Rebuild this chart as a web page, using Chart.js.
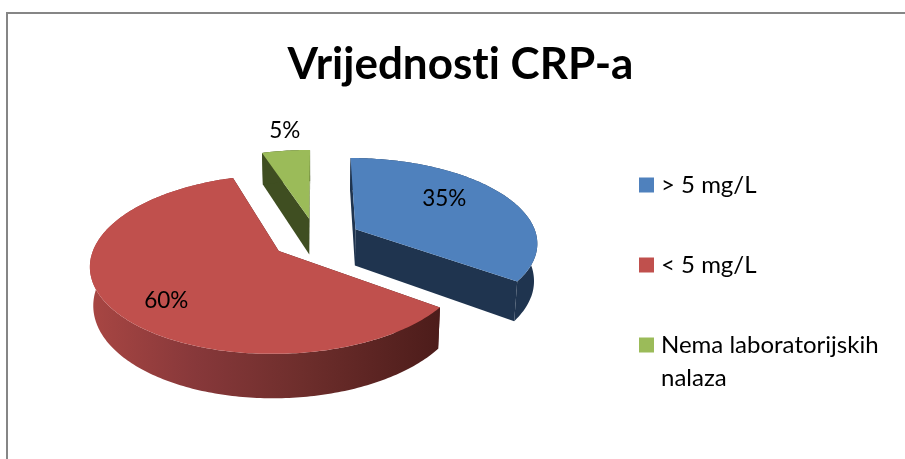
<!DOCTYPE html>
<html><head><meta charset="utf-8">
<style>html,body{margin:0;padding:0;background:#fff}canvas{display:block}</style>
<script src="https://cdn.jsdelivr.net/npm/chart.js@4"></script>
</head><body>
<canvas id="c" width="905" height="459"></canvas>
<script>
const categories = ['> 5 mg/L', '< 5 mg/L', ['Nema laboratorijskih', 'nalaza']];
const values = [35, 60, 5];
const titleText = 'Vrijednosti CRP-a';
const topColors = ['#4f81bd', '#c0504d', '#9bbb59'];
const sideColors = ['#1f344f', '#c0504d', '#3f4e21'];
const view = {cx: 316, cy: 238.5, S: 182, T: 84, p: 0.145, depth: 37, shrink: 0.985};
const labelPos = [{r: 0.58, dx: 1, dy: -10}, {r: 0.74, dx: 9, dy: 9}, {r: 1.2, dx: 3, dy: -8}];
const drawOrder = [2, 0, 1];
const fontFamily = 'Lato, Carlito, sans-serif';

function pr(u, v, low) {
  const w = 1 - view.p * v;
  const k = low ? view.shrink : 1;
  return [view.cx + view.S * u / w * k, view.cy + view.T * v / w + (low ? view.depth / w : 0)];
}
function pathOf(ctx, pts) {
  ctx.beginPath();
  pts.forEach((q, i) => i ? ctx.lineTo(q[0], q[1]) : ctx.moveTo(q[0], q[1]));
  ctx.closePath();
}
function geom(el) {
  const p = el.getProps(['startAngle', 'endAngle', 'outerRadius']);
  const mid = (p.startAngle + p.endAngle) / 2;
  const e = el.options.offset / p.outerRadius;
  return {a0: p.startAngle, a1: p.endAngle, mid, ox: e * Math.cos(mid), oy: e * Math.sin(mid)};
}
const pie3d = {
  id: 'pie3d',
  beforeDraw(chart) {
    const ctx = chart.ctx;
    ctx.textRendering = 'optimizeSpeed';
    ctx.save();
    ctx.strokeStyle = '#868686';
    ctx.lineWidth = 2;
    ctx.beginPath();
    ctx.moveTo(7, 459); ctx.lineTo(7, 13); ctx.lineTo(905, 13);
    ctx.stroke();
    ctx.restore();
    const lg = chart.legend;
    lg.left = 588; lg.right = 905; lg.top = 117; lg.bottom = 459;
  },
  beforeDatasetDraw(chart, args) {
    const ctx = chart.ctx;
    const arcs = chart.getDatasetMeta(args.index).data;
    ctx.save();
    drawOrder.forEach(i => {
      const g = geom(arcs[i]);
      const n = Math.max(8, Math.round((g.a1 - g.a0) * 60));
      const rim = [];
      for (let k = 0; k <= n; k++) {
        const a = g.a0 + (g.a1 - g.a0) * k / n;
        rim.push([g.ox + Math.cos(a), g.oy + Math.sin(a)]);
      }
      const hub = [g.ox, g.oy];
      const P = low => q => pr(q[0], q[1], low);
      const side = sideColors[i];
      [rim[0], rim[n]].forEach(q => {
        pathOf(ctx, [P(false)(hub), P(false)(q), P(true)(q), P(true)(hub)]);
        ctx.fillStyle = i === 1 ? '#4d1c1a' : side;
        ctx.fill();
      });
      pathOf(ctx, rim.map(P(false)).concat(rim.slice().reverse().map(P(true))));
      if (i === 1) {
        const gr = ctx.createLinearGradient(91, 0, 441, 0);
        gr.addColorStop(0, '#a84643');
        gr.addColorStop(0.3, '#87383a');
        gr.addColorStop(0.6, '#6e2e2c');
        gr.addColorStop(1, '#4c1c1a');
        ctx.fillStyle = gr;
      } else ctx.fillStyle = side;
      ctx.fill();
      pathOf(ctx, [P(false)(hub)].concat(rim.map(P(false))));
      ctx.fillStyle = topColors[i];
      ctx.fill();
    });
    ctx.fillStyle = '#000';
    ctx.font = '22.5px ' + fontFamily;
    ctx.textAlign = 'center';
    ctx.textBaseline = 'middle';
    const total = values.reduce((a, b) => a + b, 0);
    arcs.forEach((el, i) => {
      const g = geom(el), L = labelPos[i];
      const q = pr(g.ox + L.r * Math.cos(g.mid), g.oy + L.r * Math.sin(g.mid), false);
      ctx.fillText(Math.round(values[i] / total * 100) + '%', q[0] + L.dx, q[1] + L.dy);
    });
    ctx.restore();
    return false;
  }
};
new Chart(document.getElementById('c'), {
  type: 'pie',
  plugins: [pie3d],
  data: {
    labels: categories,
    datasets: [{data: values, backgroundColor: topColors, borderWidth: 0, offset: 38}]
  },
  options: {
    responsive: false,
    animation: false,
    layout: {padding: {left: 16}},
    plugins: {
      tooltip: {enabled: false},
      title: {
        display: true, text: titleText, color: '#000',
        font: {family: fontFamily, size: 44, weight: 'bold', lineHeight: 1.2},
        padding: {top: 38, bottom: 23}
      },
      legend: {
        position: 'right', align: 'start',
        labels: {
          color: '#000', boxWidth: 5, boxHeight: 5, padding: 56,
          font: {family: fontFamily, size: 24, lineHeight: 33 / 24},
          generateLabels(chart) {
            return categories.map((t, i) => ({
              text: t, fillStyle: topColors[i], strokeStyle: topColors[i], lineWidth: 10, hidden: false, index: i
            }));
          }
        }
      }
    }
  }
});
</script>
</body></html>
